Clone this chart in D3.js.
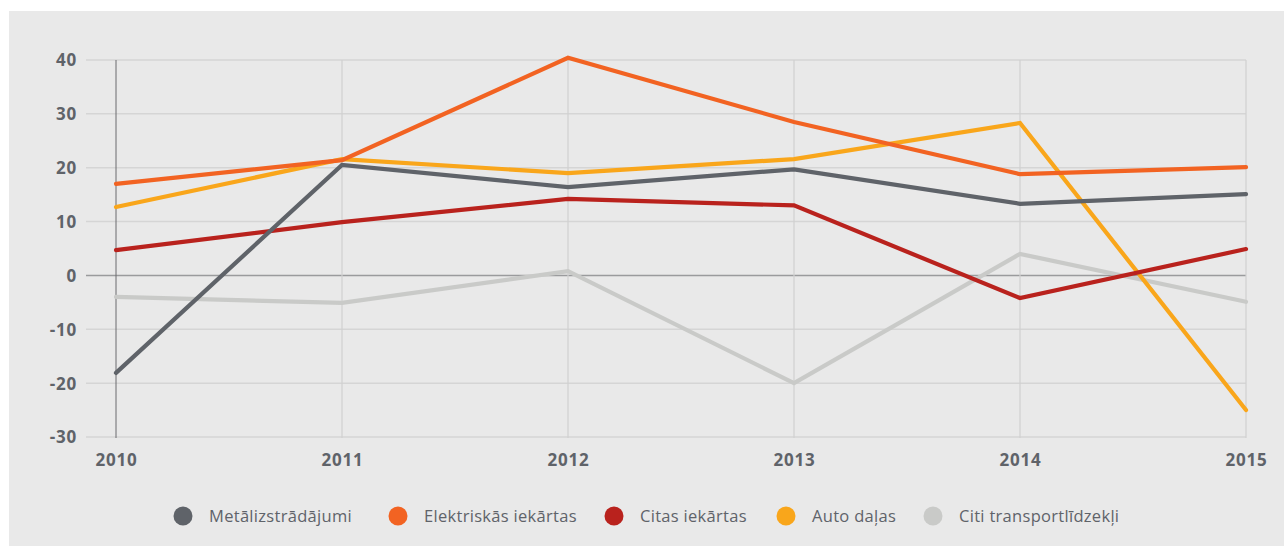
<!DOCTYPE html>
<html><head><meta charset="utf-8">
<script src="https://cdn.jsdelivr.net/npm/d3@7"></script>
<style>
html,body{margin:0;padding:0;background:#fff;}
svg{display:block;}
</style></head>
<body>
<svg id="chart" width="1284" height="547"></svg>
<script>
const years = [2010, 2011, 2012, 2013, 2014, 2015];
const yTicks = [-30, -20, -10, 0, 10, 20, 30, 40];
const seriesNames = ["Metālizstrādājumi", "Elektriskās iekārtas", "Citas iekārtas", "Auto daļas", "Citi transportlīdzekļi"];
const seriesColors = ["#5f6369", "#f26322", "#b9221d", "#f9a61b", "#c9cac8"];
const metalizstradajumi = [-18.1, 20.5, 16.4, 19.7, 13.3, 15.1];
const elektriskas = [17.0, 21.4, 40.4, 28.5, 18.8, 20.1];
const citasIekartas = [4.7, 9.9, 14.2, 13.0, -4.2, 4.9];
const autoDalas = [12.7, 21.6, 19.0, 21.6, 28.3, -25.0];
const citiTransport = [-4.0, -5.1, 0.8, -20.0, 4.0, -4.9];
const seriesValues = [metalizstradajumi, elektriskas, citasIekartas, autoDalas, citiTransport];

const svg = d3.select("#chart");
svg.append("rect").attr("x", 9).attr("y", 11).attr("width", 1275).attr("height", 535).attr("fill", "#e9e9e9");

const x = d3.scalePoint().domain(years).range([116, 1246]);
const y = d3.scaleLinear().domain([-30, 40]).range([437, 60]);

// horizontal grid
svg.append("g").selectAll("line").data(yTicks).join("line")
  .attr("x1", 86).attr("x2", 1246)
  .attr("y1", d => y(d)).attr("y2", d => y(d))
  .attr("stroke", d => d === 0 ? "#9a9b9d" : "#d5d5d5")
  .attr("stroke-width", 1.5);

// vertical grid
svg.append("g").selectAll("line").data(years).join("line")
  .attr("x1", d => x(d)).attr("x2", d => x(d))
  .attr("y1", y(40)).attr("y2", y(-30) + 1)
  .attr("stroke", (d, i) => i === 0 ? "#6a6b6e" : "#d0d0d0")
  .attr("stroke-width", (d, i) => i === 0 ? 1 : 1.2);

const tickFont = "'Open Sans', Lato, sans-serif";
// y axis labels
const yAxis = d3.axisLeft(y).tickValues(yTicks).tickSize(0).tickPadding(0).tickFormat(d => String(d));
const ya = svg.append("g").attr("transform", "translate(77,0)").call(yAxis);
ya.select(".domain").remove();
ya.selectAll("text").attr("font-family", tickFont).attr("font-weight", "bold")
  .attr("font-size", 17).attr("letter-spacing", 0.8).attr("fill", "#5f6369").attr("dy", "0.35em");

// x axis labels
const xAxis = d3.axisBottom(x).tickSize(0).tickPadding(0).tickFormat(d => String(d));
const xa = svg.append("g").attr("transform", "translate(0,454)").call(xAxis);
xa.select(".domain").remove();
xa.selectAll("text").attr("font-family", tickFont).attr("font-weight", "bold")
  .attr("font-size", 17).attr("letter-spacing", 0.8).attr("fill", "#5f6369").attr("dy", "0.71em");

// lines
const line = d3.line().x((d, i) => x(years[i])).y(d => y(d));
svg.append("g").selectAll("path").data(seriesValues.map((v, i) => ({v, i})).reverse()).join("path")
  .attr("d", d => line(d.v))
  .attr("fill", "none")
  .attr("stroke", d => seriesColors[d.i])
  .attr("stroke-width", 4.2)
  .attr("stroke-linejoin", "miter")
  .attr("stroke-linecap", "round");

// legend
const legendX = [183, 398, 614, 786, 933];
const lg = svg.append("g").selectAll("g").data(seriesNames).join("g")
  .attr("transform", (d, i) => `translate(${legendX[i]},516)`);
lg.append("circle").attr("r", 9.5).attr("fill", (d, i) => seriesColors[i]);
lg.append("text").attr("x", 26).attr("dy", "0.35em")
  .attr("font-family", "'Open Sans', Lato, sans-serif").attr("font-size", 16.5)
  .attr("letter-spacing", 0.3)
  .attr("fill", "#5f6369").text(d => d);
</script>
</body></html>
